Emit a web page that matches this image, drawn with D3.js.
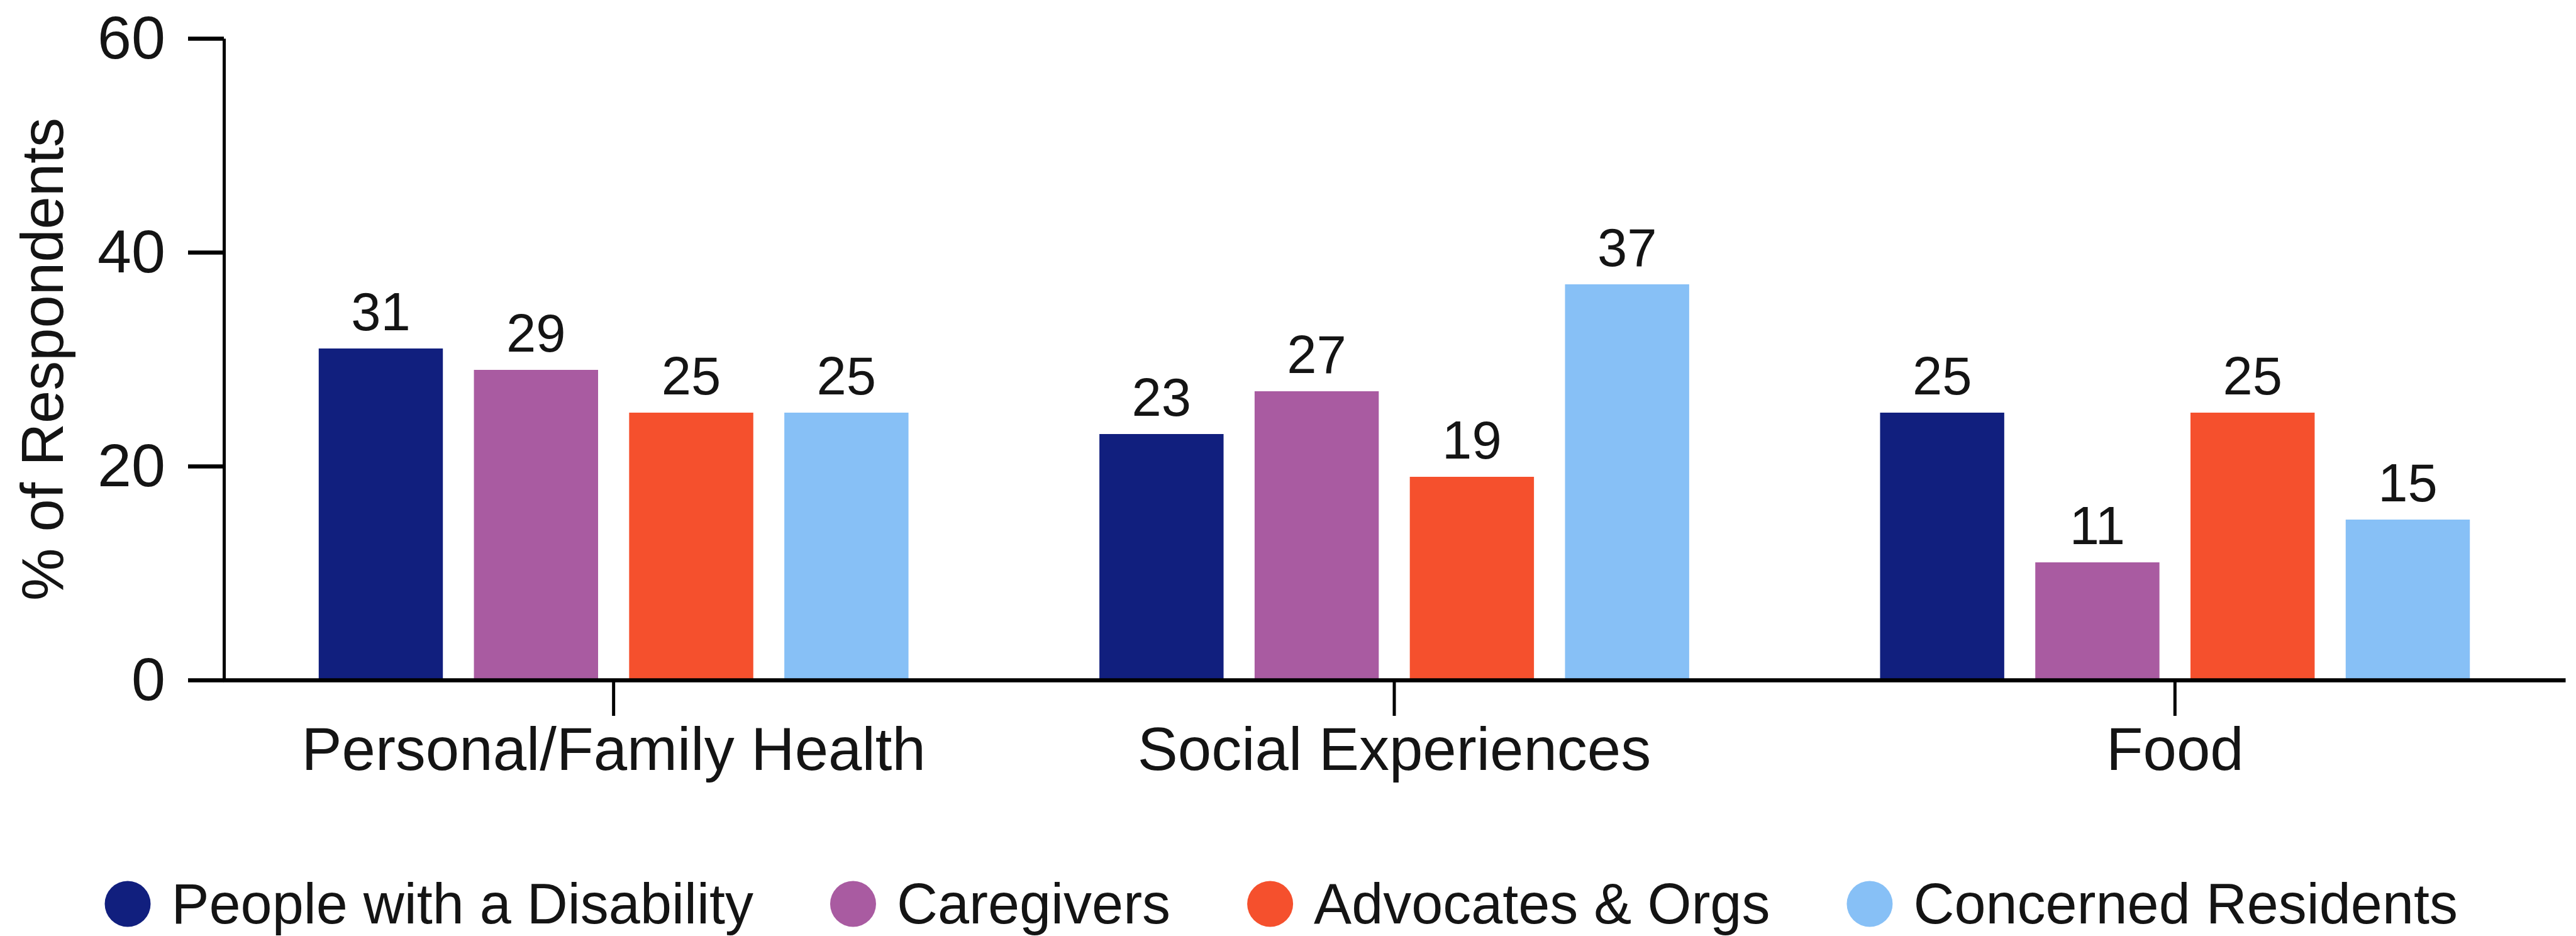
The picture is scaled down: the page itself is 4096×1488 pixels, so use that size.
<!DOCTYPE html>
<head>
    <meta charset="utf-8">
    <title>% of Respondents by group</title>
    <script src="https://cdn.jsdelivr.net/npm/d3@7"></script>
    <style>
        body { margin: 0; background: #fff; }
        svg text { font-family: "Liberation Sans", Arial, Helvetica, sans-serif; fill: #141414; }
    </style>
</head>

<body>
<div id="chart"></div>

<script type="text/javascript">
    // data
    const categories = ["Personal/Family Health", "Social Experiences", "Food"];
    const groups = ["People with a Disability", "Caregivers", "Advocates & Orgs", "Concerned Residents"];
    const disability = [31, 23, 25];
    const caregivers = [29, 27, 11];
    const advocates = [25, 19, 25];
    const residents = [25, 37, 15];
    const yTicks = [0, 20, 40, 60];
    const colors = ["#111f7e", "#a95ba1", "#f5502d", "#87c0f6"];

    const series = [disability, caregivers, advocates, residents];

    const width = 4096, height = 1488;

    const svg = d3.select("#chart").append("svg")
        .attr("width", width)
        .attr("height", height);

    /// scales
    const x0 = d3.scaleBand()
        .domain(categories)
        .range([355, 4079])
        .padding(0);
    const x1 = d3.scaleBand()
        .domain(groups)
        .range([0, x0.bandwidth()])
        .paddingInner(0.2)
        .paddingOuter(0.615);
    const y = d3.scaleLinear()
        .domain([0, 60])
        .range([1081, 61]);

    /// bars
    const rows = [];
    categories.forEach((c, i) => {
        groups.forEach((g, j) => rows.push({cat: c, grp: g, v: series[j][i], color: colors[j]}));
    });

    svg.append("g").selectAll("rect")
        .data(rows)
        .join("rect")
        .attr("x", d => x0(d.cat) + x1(d.grp))
        .attr("y", d => y(d.v))
        .attr("width", x1.bandwidth())
        .attr("height", d => y(0) - y(d.v))
        .attr("fill", d => d.color);

    /// value labels
    svg.append("g").selectAll("text")
        .data(rows)
        .join("text")
        .attr("x", d => x0(d.cat) + x1(d.grp) + x1.bandwidth() / 2)
        .attr("y", d => y(d.v) - 29)
        .attr("text-anchor", "middle")
        .style("font-size", "85px")
        .text(d => d.v);

    /// y axis
    const yAxis = svg.append("g")
        .attr("transform", "translate(356,0)")
        .call(d3.axisLeft(y).tickValues(yTicks).tickSize(57).tickSizeOuter(0).tickPadding(36));
    yAxis.select(".domain").attr("stroke", "#000").attr("stroke-width", 5);
    yAxis.selectAll(".tick line").attr("stroke", "#000").attr("stroke-width", 6.5);
    yAxis.selectAll(".tick text")
        .style("font-size", "97px")
        .attr("fill", "#141414");

    /// x axis
    const xAxis = svg.append("g")
        .attr("transform", `translate(0,${y(0)})`)
        .call(d3.axisBottom(x0).tickSize(57).tickSizeOuter(0));
    xAxis.select(".domain").attr("stroke", "#000").attr("stroke-width", 6.5);
    xAxis.selectAll(".tick line").attr("stroke", "#000").attr("stroke-width", 5);
    xAxis.selectAll(".tick text")
        .attr("y", 143)
        .attr("dy", "0")
        .style("font-size", "96px")
        .attr("fill", "#141414");

    /// y title
    svg.append("text")
        .attr("transform", `translate(100,${(y(0) + y(60)) / 2}) rotate(-90)`)
        .attr("text-anchor", "middle")
        .style("font-size", "94px")
        .text("% of Respondents");

    /// legend (kept a little above the bottom edge so descenders are not cut)
    const legend = svg.append("g").attr("transform", "translate(0,1437)");
    const r = 36.5;
    let cx = 203;
    groups.forEach((g, j) => {
        legend.append("circle")
            .attr("cx", cx)
            .attr("cy", 0)
            .attr("r", r)
            .attr("fill", colors[j]);
        const t = legend.append("text")
            .attr("x", cx + r + 33)
            .attr("y", 31)
            .style("font-size", "90px")
            .text(g);
        const len = t.node().getComputedTextLength();
        cx = cx + r + 33 + len + 122 + r;
    });
</script>
</body>
